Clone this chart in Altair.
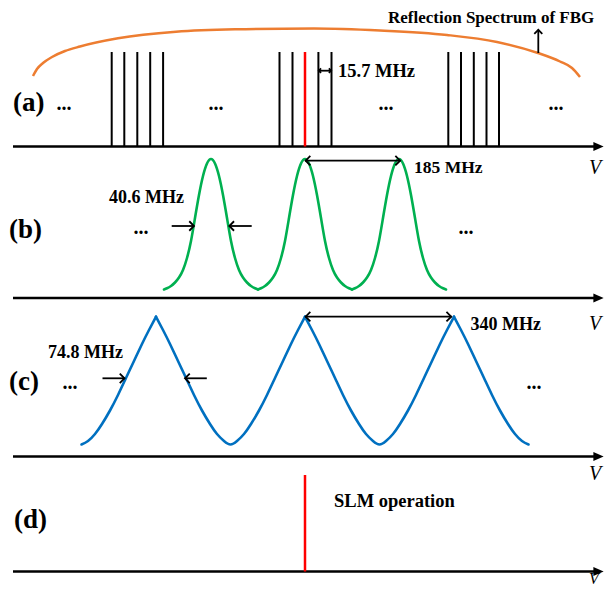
import altair as alt
import pandas as pd

# ---------------- schematic values ----------------
# positions are in the drawing's own frequency/intensity units (one unit ~ one pixel)
axis_rows = [146.5, 298.0, 456.5, 571.5]          # frequency axes of panels (a)-(d)
axis_start = [13.0, 13.0, 13.0, 13.0]
axis_end = [595.0, 595.0, 595.0, 595.0]
axis_head_x = [598.5, 598.5, 598.5, 598.5]

panel_labels = ["(a)", "(b)", "(c)", "(d)"]
panel_label_x = [13.0, 9.0, 9.0, 14.0]
panel_label_y = [103.0, 230.0, 382.0, 520.0]

v_label_x = [595.0, 595.0, 595.0, 594.0]
v_label_y = [168.0, 324.0, 474.0, 578.5]
v_label_size = [20, 20, 20, 16]

# (a) longitudinal modes
comb_black_x = [111.7, 124.3, 137.3, 150.2, 163.1,
                279.5, 292.5, 318.4, 331.5,
                448.3, 461.0, 473.8, 486.5, 499.0]
comb_red_x = [305.0]
comb_top = 52.0

# (d) single longitudinal mode
slm_x = [305.0]
slm_top = 475.0

# FBG reflection envelope
arc_x = [33, 37, 43, 52, 65, 80, 118, 176, 235, 314, 380, 447, 497, 538, 560, 572, 580]
arc_y = [76, 69, 63, 57, 51, 46.5, 38.3, 31.7, 29.3, 28.5, 30.5, 35, 42, 53, 61.5, 68, 77]

# (b) filter transmission peaks (FSR 185 MHz, FWHM 40.6 MHz)
b_peaks = [211.0, 305.0, 399.0]
b_dx = [0, 4, 8, 12, 16, 20, 24, 28, 32, 36, 40, 44, 47]
b_y = [159, 163.5, 176, 195, 218, 241, 258, 270, 277.5, 282.5, 286, 288.3, 289.5]

# (c) filter transmission peaks (FSR 340 MHz, FWHM 74.8 MHz)
c_peaks = [156.0, 305.0, 454.0]
c_dx = [0, 7, 14, 22, 30, 38, 46, 54, 61, 68, 74.5]
c_y = [316.7, 330, 344, 361, 378, 395, 410.5, 424, 434, 441, 444.5]

# dimension arrows
arr_x1 = [318.4, 305.0, 305.0, 171.7, 229.3, 102.5, 185.0]
arr_x2 = [331.5, 400.7, 451.8, 194.0, 251.7, 124.5, 206.8]
arr_y = [70.7, 160.7, 316.7, 226.0, 226.0, 378.3, 378.3]

head_x = [318.8, 331.1, 305.6, 400.1, 305.6, 451.2, 194.0, 229.3, 124.5, 185.0, 538.3]
head_y = [70.7, 70.7, 160.7, 160.7, 316.7, 316.7, 226.0, 226.0, 378.3, 378.3, 29.8]
head_dir = ["left", "right", "left", "right", "left", "right",
            "right", "left", "right", "left", "up"]
head_size = [20, 20, 90, 90, 90, 90, 90, 90, 90, 90, 64]

fbg_arrow_x = [538.3]
fbg_arrow_y1 = [53.0]
fbg_arrow_y2 = [29.8]

ann_text = ["Reflection Spectrum of FBG", "15.7 MHz", "185 MHz", "40.6 MHz",
            "340 MHz", "74.8 MHz", "SLM operation"]
ann_x = [388.0, 338.0, 414.0, 109.0, 470.5, 48.0, 334.0]
ann_y = [18.0, 70.7, 167.5, 198.0, 325.0, 352.5, 500.5]
ann_size = [17, 18.5, 17.5, 18, 18, 18, 18.5]

dots_x = [64, 216, 386, 556, 141, 466, 70, 534]
dots_y = [109.5, 109.5, 109.5, 109.5, 233.5, 233.5, 389.0, 389.0]

# ---------------- tables ----------------
xs = alt.Scale(domain=[8, 606], nice=False, zero=False)
ys = alt.Scale(domain=[8, 587], reverse=True, nice=False, zero=False)


def X(f="x"):
    return alt.X(f"{f}:Q", scale=xs, axis=None)


def Y(f="y"):
    return alt.Y(f"{f}:Q", scale=ys, axis=None)


axes_df = pd.DataFrame({"x": axis_start, "x2": axis_end, "y": axis_rows, "hx": axis_head_x})
comb_df = pd.DataFrame({"x": comb_black_x, "y": comb_top, "y2": axis_rows[0]})
red_df = pd.DataFrame({"x": comb_red_x + slm_x,
                       "y": [comb_top, slm_top],
                       "y2": [axis_rows[0], axis_rows[3]]})
arc_df = pd.DataFrame({"x": arc_x, "y": arc_y})

b_rows = []
for i, p in enumerate(b_peaks):
    for d, yv in zip(b_dx, b_y):
        b_rows.append({"x": p - d, "y": yv, "seg": i})
    for d, yv in zip(b_dx[1:], b_y[1:]):
        b_rows.append({"x": p + d, "y": yv, "seg": i})
b_df = pd.DataFrame(b_rows)

c_rows = []
for d, yv in zip(c_dx, c_y):
    c_rows.append({"x": c_peaks[0] - d, "y": yv, "seg": 0})
for i in range(len(c_peaks) - 1):
    for d, yv in zip(c_dx, c_y):
        c_rows.append({"x": c_peaks[i] + d, "y": yv, "seg": i + 1})
    for d, yv in zip(c_dx[:-1], c_y[:-1]):
        c_rows.append({"x": c_peaks[i + 1] - d, "y": yv, "seg": i + 1})
for d, yv in zip(c_dx, c_y):
    c_rows.append({"x": c_peaks[-1] + d, "y": yv, "seg": len(c_peaks)})
c_df = pd.DataFrame(c_rows)

arr_df = pd.DataFrame({"x": arr_x1, "x2": arr_x2, "y": arr_y})
head_df = pd.DataFrame({"x": head_x, "y": head_y, "dir": head_dir, "sz": head_size})
fbg_df = pd.DataFrame({"x": fbg_arrow_x, "y": fbg_arrow_y1, "y2": fbg_arrow_y2})
ann_df = pd.DataFrame({"t": ann_text, "x": ann_x, "y": ann_y, "fs": ann_size})
dots_df = pd.DataFrame({"x": dots_x, "y": dots_y, "t": "..."})
lab_df = pd.DataFrame({"t": panel_labels, "x": panel_label_x, "y": panel_label_y})
v_df = pd.DataFrame({"x": v_label_x, "y": v_label_y, "t": "V", "fs": v_label_size})

FONT = "Liberation Serif"

# ---------------- layers ----------------
arc = alt.Chart(arc_df).mark_line(color="#ED7D31", strokeWidth=2.5, interpolate="monotone").encode(
    x=X(), y=Y())

axes = alt.Chart(axes_df).mark_rule(color="black", strokeWidth=2.6).encode(
    x=X(), x2="x2:Q", y=Y())
axis_heads = alt.Chart(axes_df).mark_point(
    shape="M-1,-0.87L1,0L-1,0.87Z", filled=True, color="black", size=106, opacity=1, strokeWidth=0
).encode(x=X("hx"), y=Y())

comb = alt.Chart(comb_df).mark_rule(color="black", strokeWidth=2).encode(
    x=X(), y=Y(), y2="y2:Q")
red = alt.Chart(red_df).mark_rule(color="#FF0000", strokeWidth=2.5).encode(
    x=X(), y=Y(), y2="y2:Q")

green = alt.Chart(b_df).mark_line(color="#00B050", strokeWidth=2.6, interpolate="natural",
                                  strokeCap="round").encode(
    x=X(), y=Y(), detail="seg:N")
blue = alt.Chart(c_df).mark_line(color="#0070C0", strokeWidth=2.6, interpolate="natural",
                                 strokeCap="round").encode(
    x=X(), y=Y(), detail="seg:N")

arrows = alt.Chart(arr_df).mark_rule(color="black", strokeWidth=1.8).encode(
    x=X(), x2="x2:Q", y=Y())
fbg_arrow = alt.Chart(fbg_df).mark_rule(color="black", strokeWidth=1.8).encode(
    x=X(), y=Y(), y2="y2:Q")
heads = alt.Chart(head_df).mark_point(filled=False, color="black", strokeWidth=1.8, opacity=1).encode(
    x=X(), y=Y(),
    shape=alt.Shape("dir:N", scale=alt.Scale(
        domain=["left", "right", "up"],
        range=["M1,-1L0,0L1,1", "M-1,-1L0,0L-1,1", "M-1,1L0,0L1,1"]), legend=None),
    size=alt.Size("sz:Q", scale=None))

ann = alt.Chart(ann_df).mark_text(font=FONT, fontWeight="bold", align="left", baseline="middle",
                                  color="black").encode(
    x=X(), y=Y(), text="t:N", size=alt.Size("fs:Q", scale=None))
dots = alt.Chart(dots_df).mark_text(font=FONT, fontWeight="bold", fontSize=20, align="center",
                                    baseline="alphabetic", color="black").encode(
    x=X(), y=Y(), text="t:N")
labels = alt.Chart(lab_df).mark_text(font=FONT, fontWeight="bold", fontSize=27, align="left",
                                     baseline="middle", color="black").encode(
    x=X(), y=Y(), text="t:N")
vlab = alt.Chart(v_df).mark_text(font=FONT, fontStyle="italic", align="center",
                                 baseline="middle", color="black").encode(
    x=X(), y=Y(), text="t:N", size=alt.Size("fs:Q", scale=None))

chart = alt.layer(
    arc, comb, axes, axis_heads, green, blue, red, arrows, fbg_arrow, heads,
    ann, dots, labels, vlab
).properties(
    width=598, height=579, padding=0, autosize=alt.AutoSizeParams(type="none"),
    background="white"
).configure_view(stroke=None)

chart.save("out.html", embed_options={"renderer": "svg", "actions": False})
